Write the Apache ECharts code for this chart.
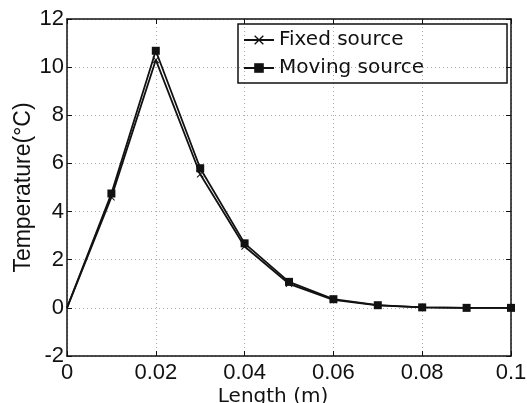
<html>
  <head>
    <meta charset="utf-8">
    <script src="https://cdn.jsdelivr.net/npm/echarts@6/dist/echarts.min.js"></script>
  </head>
  <body style="margin:0;background:#fff">
    <div id="main" style="width:527px;height:403px;"></div>
    <script>
      // length along the plate (m)
      var lengths = [0, 0.01, 0.02, 0.03, 0.04, 0.05, 0.06, 0.07, 0.08, 0.09, 0.1];
      var fixedTemp = [0, 4.6, 10.3, 5.55, 2.55, 1.0, 0.33, 0.1, 0.02, 0.0, 0.0];
      var movingTemp = [0, 4.75, 10.68, 5.8, 2.68, 1.08, 0.36, 0.11, 0.02, 0.0, 0.0];
      var seriesNames = ['Fixed source', 'Moving source'];

      var crossPath = 'path://M0,1L1,0L5,4L9,0L10,1L6,5L10,9L9,10L5,6L1,10L0,9L4,5Z';

      function pairs(ys) {
        return lengths.map(function (x, i) { return [x, ys[i]]; });
      }
      function markSize(s) {
        return function (v, p) { return p.dataIndex === 0 ? 0 : s; };
      }

      var tickFont = { fontFamily: 'Liberation Sans', fontSize: 22, color: '#111' };
      var frame = { onZero: false, lineStyle: { color: '#111', width: 1.5 } };
      var inTick = { inside: true, length: 5, lineStyle: { color: '#111', width: 1 } };
      var dots = { show: true, lineStyle: { color: '#aaa', type: [1, 3], width: 1 } };

      var myChart = echarts.init(document.getElementById('main'));
      var option = {
        animation: false,
        grid: { left: 67, right: 16, top: 19, bottom: 47, outerBoundsMode: 'none' },
        legend: {
          orient: 'vertical',
          left: 238, top: 24,
          padding: [6, 83, 5, 5],
          itemWidth: 30, itemHeight: 12, itemGap: 8,
          borderColor: '#111', borderWidth: 1.5,
          textStyle: { fontFamily: 'DejaVu Sans', fontSize: 20, color: '#111' },
          data: seriesNames
        },
        xAxis: [{
          type: 'value', min: 0, max: 0.1, interval: 0.02,
          name: 'Length (m)', nameLocation: 'middle', nameGap: 31, nameMoveOverlap: false,
          nameTextStyle: { fontFamily: 'DejaVu Sans', fontSize: 20, color: '#111', padding: [0, 32, 0, 0] },
          axisLine: frame, axisTick: inTick,
          axisLabel: Object.assign({ margin: 6 }, tickFont),
          splitLine: dots
        }, {
          type: 'value', position: 'top', min: 0, max: 0.1, interval: 0.02,
          axisLine: frame, axisTick: inTick, axisLabel: { show: false }, splitLine: { show: false }
        }],
        yAxis: [{
          type: 'value', min: -2, max: 12, interval: 2,
          name: 'Temperature(°C)', nameLocation: 'middle', nameGap: 32, nameMoveOverlap: false,
          nameTextStyle: { fontFamily: 'Liberation Sans', fontSize: 23, color: '#111' },
          axisLine: frame, axisTick: inTick,
          axisLabel: Object.assign({ margin: 3 }, tickFont),
          splitLine: dots
        }, {
          type: 'value', position: 'right', min: -2, max: 12, interval: 2,
          axisLine: frame, axisTick: inTick, axisLabel: { show: false }, splitLine: { show: false }
        }],
        series: [{
          name: seriesNames[0], type: 'line',
          data: pairs(fixedTemp),
          symbol: crossPath, symbolSize: markSize(7),
          itemStyle: { color: '#111' },
          lineStyle: { color: '#111', width: 1.8 }
        }, {
          name: seriesNames[1], type: 'line',
          data: pairs(movingTemp),
          symbol: 'rect', symbolSize: markSize(8),
          itemStyle: { color: '#111' },
          lineStyle: { color: '#111', width: 1.8 }
        }]
      };
      myChart.setOption(option);
    </script>
  </body>
</html>
